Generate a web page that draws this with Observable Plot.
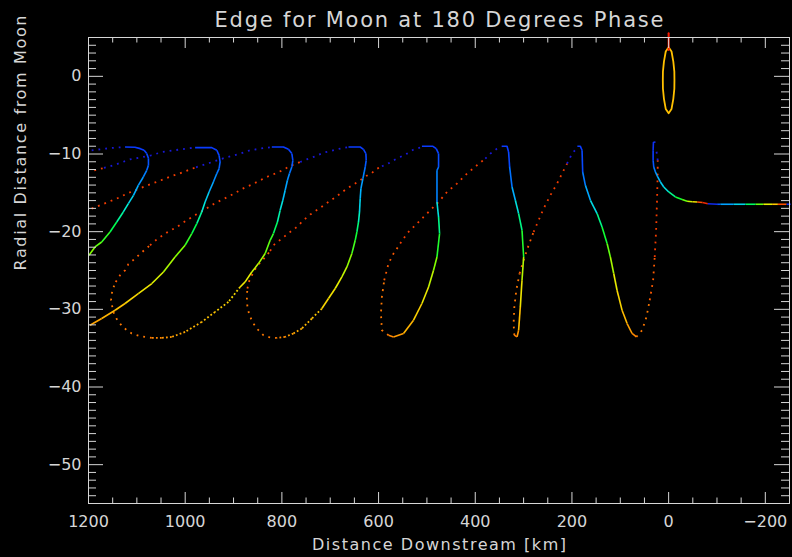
<!DOCTYPE html>
<html><head><meta charset="utf-8">
<script src="https://cdn.jsdelivr.net/npm/d3@7"></script>
<script src="https://cdn.jsdelivr.net/npm/@observablehq/plot@0.6"></script>
<style>html,body{margin:0;padding:0;background:#000;}</style>
</head><body><div id="chart"></div>
<script>
// ---- traced path pieces: [distance downstream km, radial distance, colour phase 0..1]
const riseIntoA = [[1193.4,-9.52,0],[1164.4,-9.31,0],[1145.1,-9.18,0],[1124.4,-9.10,0]];
const descA = [[1124.4,-9.10,0.08],[1104,-9.14,0.08],[1093,-9.31,0.08],[1085,-9.52,0.09],[1079.5,-9.95,0.10],[1076,-10.55,0.12],[1076,-11.45,0.15],[1079.5,-12.10,0.19],[1086.6,-12.96,0.23],[1097,-14.03,0.27],[1107,-15.32,0.32],[1117.6,-16.38,0.36],[1128,-17.46,0.39],[1141.6,-18.75,0.43],[1155.5,-20.04,0.47],[1172.7,-21.33,0.50],[1186.5,-21.97,0.52],[1199,-23.04,0.54]];
const riseAB = [[1188,-12.10,0.92],[1168,-11.80,0],[1146.6,-11.42,0],[1129.2,-11.03,0],[1114.1,-10.68,0],[1096.9,-10.51,0],[1070.6,-10.17,0],[1047.2,-9.74,0],[1022.4,-9.52,0],[993.4,-9.27,0],[979.5,-9.18,0]];
const descB = [[979.5,-9.18,0.08],[945,-9.18,0.08],[934.6,-9.52,0.09],[929.9,-10.17,0.11],[927.8,-11.03,0.14],[929.9,-11.88,0.17],[934.6,-12.52,0.21],[941.7,-13.60,0.26],[950.6,-14.89,0.31],[958.8,-16.18,0.35],[965.7,-17.46,0.39],[976,-18.96,0.43],[986.4,-20.24,0.47],[1000.2,-21.75,0.52],[1021,-23.26,0.55],[1045,-25.19,0.59],[1069,-26.68,0.63],[1097,-27.97,0.67],[1124.4,-29.25,0.71],[1145,-30.12,0.74],[1172.7,-31.18,0.77],[1197,-32.05,0.80]];
const riseBC = [[1193.4,-17.03,0.92],[1167.3,-16.38,0.92],[1141.6,-15.74,0.92],[1117.6,-15.02,0.92],[1094.8,-14.45,0.92],[1074.1,-13.94,0.92],[1050,-13.38,0.92],[1029.2,-12.87,0.92],[1012,-12.52,0.92],[994.7,-12.10,0.92],[977.5,-11.71,0],[958.8,-11.33,0],[918.9,-10.51,0],[886,-9.95,0],[865.7,-9.52,0],[845,-9.31,0],[820.8,-9.10,0]];
const descC = [[820.8,-9.10,0.08],[796.8,-9.10,0.08],[786.4,-9.40,0.09],[779.4,-9.95,0.10],[777.3,-10.81,0.13],[779.4,-11.67,0.17],[784.3,-12.52,0.21],[788.5,-13.38,0.25],[793.2,-14.67,0.29],[798,-15.96,0.34],[803.6,-17.25,0.38],[809.2,-18.75,0.42],[817.5,-20.24,0.47],[824.3,-21.11,0.50],[834.6,-22.82,0.54],[848.5,-24.11,0.57],[862.2,-25.19,0.60],[876,-26.47,0.63],[886.4,-27.12,0.65]];
const botC = [[886.4,-27.12,0.66],[910.6,-29.05,0.68],[938.1,-30.33,0.71],[965.7,-31.62,0.74],[1000.2,-32.91,0.77],[1027.8,-33.55,0.80],[1048.5,-33.68,0.82],[1069.2,-33.68,0.84]];
const riseCD = [[1069.2,-33.68,0.84],[1093.4,-33.46,0.84],[1110.6,-33.11,0.84],[1128,-32.34,0.84],[1140.4,-31.40,0.84],[1148.7,-30.33,0.84],[1153.4,-28.83,0.84],[1150.7,-27.54,0.84],[1143.7,-26.47,0.88],[1134.8,-25.61,0.88],[1124.4,-24.97,0.88],[1117.6,-24.20,0.88],[1103.7,-23.46,0.88],[1091.3,-22.74,0.88],[1072.7,-21.75,0.92],[1056.8,-20.89,0.92],[1038.1,-20.12,0.92],[1017.4,-19.40,0.92],[996.7,-18.53,0.92],[977.5,-17.80,0.92],[958.8,-17.12,0.92],[939.6,-16.38,0.92],[918.9,-15.74,0.92],[898.8,-15.10,0.92],[880.8,-14.45,0.92],[862.2,-13.94,0.92],[845,-13.38,0.92],[827.8,-12.87,0.92],[813.9,-12.52,0.92],[798.8,-12.10,0.92],[784.3,-11.58,0.92],[762.2,-11.03,0],[748.3,-10.68,0],[729.1,-10.26,0],[714,-9.82,0],[700.1,-9.65,0],[686.2,-9.40,0],[672.6,-9.23,0],[662.2,-9.10,0]];
const descD = [[662.2,-9.10,0.08],[638,-9.10,0.08],[631.2,-9.40,0.09],[626.2,-9.95,0.10],[625.6,-10.81,0.13],[627.6,-11.67,0.17],[629.7,-12.32,0.20],[632.4,-13.17,0.24],[636.5,-14.45,0.28],[638,-15.74,0.32],[639.4,-17.46,0.37],[641.5,-18.75,0.41],[644.8,-20.04,0.45],[648.3,-21.11,0.48],[655.2,-22.82,0.53],[665.5,-24.54,0.57],[675.9,-25.83,0.60],[689.7,-27.32,0.64],[703.6,-28.61,0.67],[717.3,-29.90,0.70]];
const botD = [[717.3,-29.90,0.70],[738,-31.18,0.73],[758.7,-32.47,0.76],[776.1,-33.11,0.79],[793.2,-33.55,0.82],[810.4,-33.68,0.84]];
const riseDE = [[810.4,-33.68,0.84],[824.3,-33.63,0.84],[838.2,-33.33,0.84],[848.5,-32.69,0.84],[858.9,-31.83,0.84],[867.1,-30.76,0.84],[871.3,-29.69,0.84],[872.5,-28.40,0.84],[871.3,-27.32,0.88],[867.1,-26.25,0.88],[860.1,-25.39,0.88],[851.8,-24.45,0.88],[843.5,-23.90,0.88],[832.6,-23.17,0.88],[824.3,-22.48,0.92],[817.5,-21.75,0.92],[800.1,-20.89,0.92],[782.9,-20.04,0.92],[769,-19.40,0.92],[755.4,-18.53,0.92],[741.5,-17.80,0.92],[722.9,-17.03,0.92],[706.9,-16.31,0.92],[693.3,-15.74,0.92],[679.4,-15.10,0.92],[665.5,-14.45,0.92],[651.9,-13.94,0.92],[638,-13.38,0.92],[625.6,-12.83,0.92],[613.8,-12.45,0.92],[605.5,-11.97,0.92],[593.1,-11.58,0],[582.7,-11.33,0],[569.1,-10.81,0],[555.2,-10.39,0],[541.3,-9.95,0],[528.3,-9.46,0],[513.8,-9.18,0],[510.3,-9.01,0]];
const descE = [[510.3,-9.01,0.08],[487.5,-9.01,0.08],[480.7,-9.31,0.09],[475.9,-9.95,0.11],[475.9,-11.67,0.17],[479.2,-12.10,0.20],[479.2,-16.18,0.34],[475.9,-18.11,0.40],[473.8,-20.24,0.46],[479.2,-23.26,0.52],[486.3,-24.97,0.57],[496.6,-27.12,0.62],[510.3,-29.25,0.68],[527.7,-31.40,0.74],[548.4,-33.11,0.79],[569.1,-33.55,0.82],[579.4,-33.33,0.84]];
const riseEF = [[579.4,-33.33,0.84],[593.1,-32.69,0.84],[595.1,-30.54,0.84],[593.1,-28.40,0.84],[588.3,-26.25,0.88],[579.4,-24.11,0.88],[569.1,-22.82,0.88],[555.2,-21.53,0.92],[541.3,-20.24,0.92],[524.1,-19.18,0.92],[506.9,-18.11,0.92],[489.6,-17.03,0.92],[475.9,-16.18,0.92],[458.5,-14.89,0.92],[437.8,-13.81,0.92],[417.1,-12.52,0.92],[396.4,-11.45,0.92],[379.2,-10.59,0],[368.9,-9.95,0],[355,-9.31,0],[344.7,-9.01,0]];
const descF = [[344.7,-9.01,0.08],[334.3,-9.01,0.08],[331,-9.74,0.10],[328.9,-11.67,0.17],[323.9,-14.25,0.27],[317.1,-15.96,0.34],[310.3,-17.67,0.40],[303.3,-19.82,0.46],[299.9,-23.26,0.56],[303.3,-26.25,0.63],[306.8,-29.69,0.72],[310.3,-32.69,0.80],[313.6,-33.55,0.83],[319.2,-33.33,0.84]];
const riseFG = [[319.2,-33.33,0.84],[320.7,-31.83,0.84],[319.2,-29.69,0.84],[315.1,-27.54,0.84],[308.3,-25.39,0.88],[300,-23.68,0.88],[289.6,-21.75,0.88],[279.3,-20.04,0.92],[268.9,-18.53,0.92],[258.6,-17.03,0.92],[244.7,-15.32,0.92],[230.8,-13.81,0.92],[217.2,-12.10,0.92],[210.1,-11.24,0],[203.3,-10.39,0],[196.5,-9.74,0],[188.8,-9.10,0]];
const descG = [[188.8,-9.01,0.08],[182.6,-9.01,0.08],[179.1,-9.52,0.10],[177.8,-12.32,0.18],[172.2,-14.03,0.26],[161.8,-15.96,0.33],[148,-17.67,0.40],[137.7,-19.40,0.45],[127.3,-21.53,0.50],[120.5,-23.26,0.55],[113.6,-25.39,0.61],[106.7,-27.54,0.67],[96.3,-30.12,0.73],[85.9,-31.83,0.78],[75.6,-33.11,0.82],[66.7,-33.55,0.84]];
const riseGH = [[66.7,-33.55,0.84],[54.9,-32.69,0.84],[45.9,-30.98,0.84],[39.1,-28.83,0.88],[32.1,-26.25,0.88],[28.8,-23.26,0.92],[25.9,-19.82,0.92],[23.8,-15.53,0.92],[22.6,-12.10,0.92],[22.6,-10.81,0],[23.8,-10.17,0],[26.3,-9.27,0]];
const tailH = [[27.3,-8.49,0.05],[31.4,-8.46,0.06],[32.1,-9.52,0.08],[32.1,-10.81,0.12],[30.8,-11.67,0.18],[27.3,-12.32,0.24],[22.6,-12.96,0.28],[17,-13.60,0.31],[10.1,-14.25,0.34],[-0.2,-14.89,0.40],[-14,-15.53,0.45],[-27.9,-15.87,0.50],[-38.3,-16.09,0.58],[-49,-16.15,0.64],[-59,-16.18,0.90],[-70,-16.25,0.95],[-81,-16.40,0.04],[-100.4,-16.47,0.12],[-107,-16.47,0.25],[-134.7,-16.47,0.32],[-159,-16.47,0.42],[-180,-16.47,0.50],[-196,-16.47,0.60],[-214,-16.47,0.70],[-226,-16.47,0.90],[-244,-16.47,0.05],[-252.2,-16.47,0.10]];
const moonOutline = [[0,3.75],[6,3.2],[9.7,1.9],[11.8,0.6],[12,-0.5],[11.8,-1.6],[9.7,-2.9],[6,-4.2],[0,-4.75],[-6,-4.2],[-9.7,-2.9],[-11.8,-1.6],[-12,-0.5],[-11.8,0.6],[-9.7,1.9],[-6,3.2],[0,3.75]];
const moonMark = [[0,5.55],[0,3.4]];

// ---- axes
const xTicks = [1200,1000,800,600,400,200,0,-200];
const yTicks = [0,-10,-20,-30,-40,-50];
const xMinor = d3.range(1150,-250,-50).filter(v => !xTicks.includes(v));
const yMinor = d3.range(4,-55,-1).filter(v => !yTicks.includes(v));
const titleText = "Edge for Moon at 180 Degrees Phase";
const xTitle = "Distance Downstream [km]";
const yTitle = "Radial Distance from Moon";

// ---- colour table (phase -> colour)
const phaseStops = [0,0.08,0.18,0.28,0.36,0.44,0.52,0.60,0.70,0.80,0.88,0.95,1];
const colorStops = ["#1818d8","#0a3cff","#0078ff","#00b4ff","#00f0d2","#00ff3c","#82ff00","#e6f000","#ffc800","#ff9600","#ff5a00","#f02800","#d20000"];
const colorOf = d3.scaleLinear().domain(phaseStops).range(colorStops).interpolate(d3.interpolateRgb).clamp(true);

const pieces = [
  ["riseIntoA","dots",riseIntoA],["descA","solid",descA],["riseAB","dots",riseAB],
  ["descB","solid",descB],["riseBC","dots",riseBC],["descC","solid",descC],["botC","fine",botC],
  ["riseCD","dots",riseCD],["descD","solid",descD],["botD","fine",botD],["riseDE","dots",riseDE],
  ["descE","solid",descE],["riseEF","dots",riseEF],["descF","solid",descF],["riseFG","dots",riseFG],
  ["descG","solid",descG],["riseGH","dots",riseGH],["tailH","solid",tailH]
];
const rows = [];
pieces.forEach(([id, style, pts]) => pts.forEach(([x, y, c]) => rows.push({id, style, x, y, c})));

const W = 792, H = 557, mL = 88, mR = 3, mT = 37, mB = 54;
const innerW = W - mL - mR, innerH = H - mT - mB;
const ink = "#d6d6d6";
const font = "DejaVu Sans";

const pathMark = (style, dash, width) => Plot.line(rows.filter(r => r.style === style), {
  x: "x", y: "y", z: "id", stroke: d => colorOf(d.c), strokeWidth: width,
  strokeDasharray: dash, strokeLinecap: "butt", strokeLinejoin: "round"
});

const fmt = d => d < 0 ? "\u2212" + Math.abs(d) : String(d);

const svg = Plot.plot({
  width: W, height: H,
  marginLeft: mL, marginRight: mR, marginTop: mT, marginBottom: mB,
  style: {background: "#000", color: ink, fontFamily: font},
  x: {domain: [1200, -250]},
  y: {domain: [-55, 5]},
  marks: [
    pathMark("dots", "1.8,5", 1.8),
    pathMark("fine", "1.8,2.2", 1.8),
    pathMark("solid", null, 1.6),
    Plot.line(moonOutline, {x: d => d[0], y: d => d[1], stroke: "#ffc000", strokeWidth: 1.8}),
    Plot.line(moonMark, {x: d => d[0], y: d => d[1], stroke: "#ff1a00", strokeWidth: 2}),
    Plot.frame({stroke: ink, strokeWidth: 1}),
    Plot.tickX(xTicks, {x: d => d, stroke: ink, insetTop: innerH - 11}),
    Plot.tickX(xTicks, {x: d => d, stroke: ink, insetBottom: innerH - 11}),
    Plot.tickX(xMinor, {x: d => d, stroke: ink, insetTop: innerH - 5.5}),
    Plot.tickX(xMinor, {x: d => d, stroke: ink, insetBottom: innerH - 5.5}),
    Plot.tickY(yTicks, {y: d => d, stroke: ink, insetRight: innerW - 15}),
    Plot.tickY(yTicks, {y: d => d, stroke: ink, insetLeft: innerW - 15}),
    Plot.tickY(yMinor, {y: d => d, stroke: ink, insetRight: innerW - 8}),
    Plot.tickY(yMinor, {y: d => d, stroke: ink, insetLeft: innerW - 8}),
    Plot.axisX({ticks: xTicks, anchor: "bottom", tickSize: 0, tickPadding: 12, tickFormat: fmt, fontSize: 16, label: null, fill: ink}),
    Plot.axisY({ticks: yTicks, anchor: "left", tickSize: 0, tickPadding: 7, tickFormat: fmt, fontSize: 16, label: null, fill: ink}),
    Plot.text([titleText], {text: d => d, frameAnchor: "top", dy: -17, fontSize: 21, fill: ink, lineAnchor: "middle"}),
    Plot.text([xTitle], {text: d => d, frameAnchor: "bottom", dy: 41, fontSize: 16, fill: ink, lineAnchor: "middle"}),
    Plot.text([yTitle], {text: d => d, frameAnchor: "left", dx: -68, rotate: -90, fontSize: 16, fill: ink, lineAnchor: "middle"})
  ]
});

const fit = (str, len) => d3.select(svg).selectAll("text")
  .filter(function() { return this.textContent === str; })
  .attr("textLength", len).attr("lengthAdjust", "spacing");
fit(titleText, 449);
fit(xTitle, 254);
fit(yTitle, 255);

document.getElementById("chart").appendChild(svg);
</script>
</body></html>
